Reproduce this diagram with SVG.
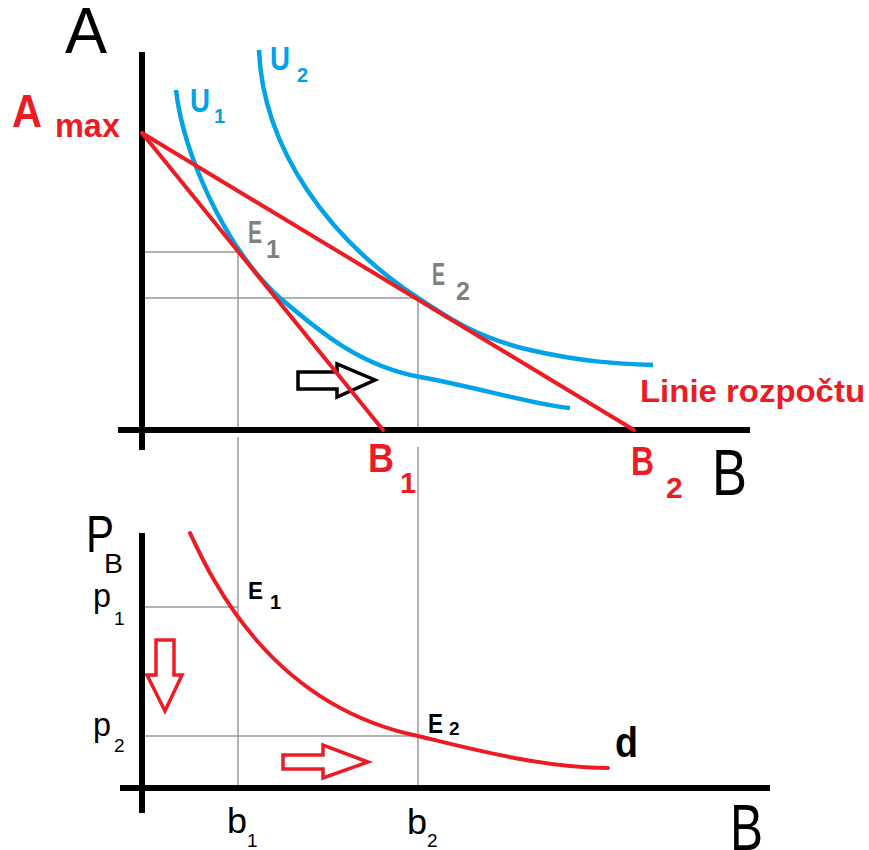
<svg xmlns="http://www.w3.org/2000/svg" width="869" height="850" viewBox="0 0 869 850">
<style>
.ax{stroke:#000;stroke-width:6;fill:none}
.gr{stroke:#999;stroke-width:1.5;fill:none}
.rd{stroke:#ed1c24;stroke-width:4;fill:none;stroke-linecap:round}
.bl{stroke:#00a2e8;stroke-width:4.5;fill:none}
text{font-family:"Liberation Sans",Arial,sans-serif}
.tr{fill:#ed1c24;font-weight:bold}
.tb{fill:#00a2e8;font-weight:bold}
.tg{fill:#7f7f7f;font-weight:bold}
.tk{fill:#000}
.tkb{fill:#000;font-weight:bold}
</style>
<rect width="869" height="850" fill="#fff"/>
<g id="guides">
<path class="gr" d="M142,252H238M142,298H418M238,252V430M238,437V788M418,298V430M418,447V788M142,607H238M142,736H418"/>
</g>
<g id="arrows">
<polygon points="298,372 337,372 337,364 375,380 337,397 337,389 298,389" fill="#fff" stroke="#000" stroke-width="3.5" stroke-linejoin="miter"/>
<polygon points="156,640 174,640 174,675 182,675 165,711 147,675 156,675" fill="#fff" stroke="#ed1c24" stroke-width="3.5"/>
<polygon points="283,755 323,755 323,745 368,762 323,778 323,769 283,769" fill="#fff" stroke="#ed1c24" stroke-width="3.5"/>
</g>
<g id="axes">
<path class="ax" d="M142,52V450M118,430H750"/>
<path class="ax" d="M142,533V813M120,788H770"/>
</g>
<g id="curves">
<path id="U1" class="bl" d="M176,90C183,150 222,245 280,298C300,316 360,366 360,366" style="display:none"/>
<path id="U1c" class="bl" d="M176,90C183,150 222,245 280,298C320,332 360,366 420,377S540,406 570,408"/>
<path id="U2" class="bl" d="M259,50C263,150 330,240 418,298C448,318 478,338 530,350S620,364 653,365"/>
<path id="budget1" class="rd" d="M142,133L383,430"/>
<path id="budget2" class="rd" d="M142,133L634,430"/>
<path id="demand" class="rd" d="M190,533C212,580 270,705 418,736C460,746 540,768 608,768"/>
</g>
<g id="labels">
<text x="65" y="53" font-size="64" class="tk" textLength="42" lengthAdjust="spacingAndGlyphs">A</text>
<text x="12" y="127" font-size="47" class="tr" textLength="30" lengthAdjust="spacingAndGlyphs">A</text>
<text x="55" y="137" font-size="34" class="tr" textLength="65" lengthAdjust="spacingAndGlyphs">max</text>
<text x="190" y="112" font-size="33" class="tb" textLength="20" lengthAdjust="spacingAndGlyphs">U</text>
<text x="214" y="123" font-size="20" class="tb">1</text>
<text x="270" y="70" font-size="33" class="tb" textLength="20" lengthAdjust="spacingAndGlyphs">U</text>
<text x="297" y="82" font-size="20" class="tb">2</text>
<text x="248" y="243" font-size="32" class="tg" textLength="14" lengthAdjust="spacingAndGlyphs">E</text>
<text x="266" y="258" font-size="25" class="tg">1</text>
<text x="432" y="285" font-size="32" class="tg" textLength="13" lengthAdjust="spacingAndGlyphs">E</text>
<text x="456" y="300" font-size="25" class="tg">2</text>
<text x="368" y="472" font-size="40" class="tr" textLength="26" lengthAdjust="spacingAndGlyphs">B</text>
<text x="400" y="493" font-size="29" class="tr">1</text>
<text x="631" y="475" font-size="40" class="tr" textLength="23" lengthAdjust="spacingAndGlyphs">B</text>
<text x="666" y="498" font-size="30" class="tr">2</text>
<text x="712" y="495" font-size="64" class="tk" textLength="35" lengthAdjust="spacingAndGlyphs">B</text>
<text x="640" y="402" font-size="32" class="tr" textLength="225" lengthAdjust="spacingAndGlyphs">Linie rozpočtu</text>
<text x="86" y="552" font-size="52" class="tk" textLength="28" lengthAdjust="spacingAndGlyphs">P</text>
<text x="104" y="573" font-size="27" class="tk" textLength="19" lengthAdjust="spacingAndGlyphs">B</text>
<text x="93" y="607" font-size="34" class="tk" textLength="18" lengthAdjust="spacingAndGlyphs">p</text>
<text x="114" y="625" font-size="19" class="tk">1</text>
<text x="93" y="736" font-size="34" class="tk" textLength="18" lengthAdjust="spacingAndGlyphs">p</text>
<text x="114" y="752" font-size="19" class="tk">2</text>
<text x="227" y="833" font-size="35" class="tk" textLength="20" lengthAdjust="spacingAndGlyphs">b</text>
<text x="247" y="847" font-size="19" class="tk">1</text>
<text x="407" y="834" font-size="35" class="tk" textLength="20" lengthAdjust="spacingAndGlyphs">b</text>
<text x="427" y="847" font-size="19" class="tk">2</text>
<text x="248" y="599" font-size="23" class="tkb" textLength="15" lengthAdjust="spacingAndGlyphs">E</text>
<text x="270" y="609" font-size="20" class="tkb">1</text>
<text x="428" y="733" font-size="27" class="tkb" textLength="15" lengthAdjust="spacingAndGlyphs">E</text>
<text x="449" y="735" font-size="19" class="tkb">2</text>
<text x="615" y="757" font-size="42" class="tkb" textLength="23" lengthAdjust="spacingAndGlyphs">d</text>
<text x="730" y="850" font-size="64" class="tk" textLength="33" lengthAdjust="spacingAndGlyphs">B</text>
</g>
</svg>
